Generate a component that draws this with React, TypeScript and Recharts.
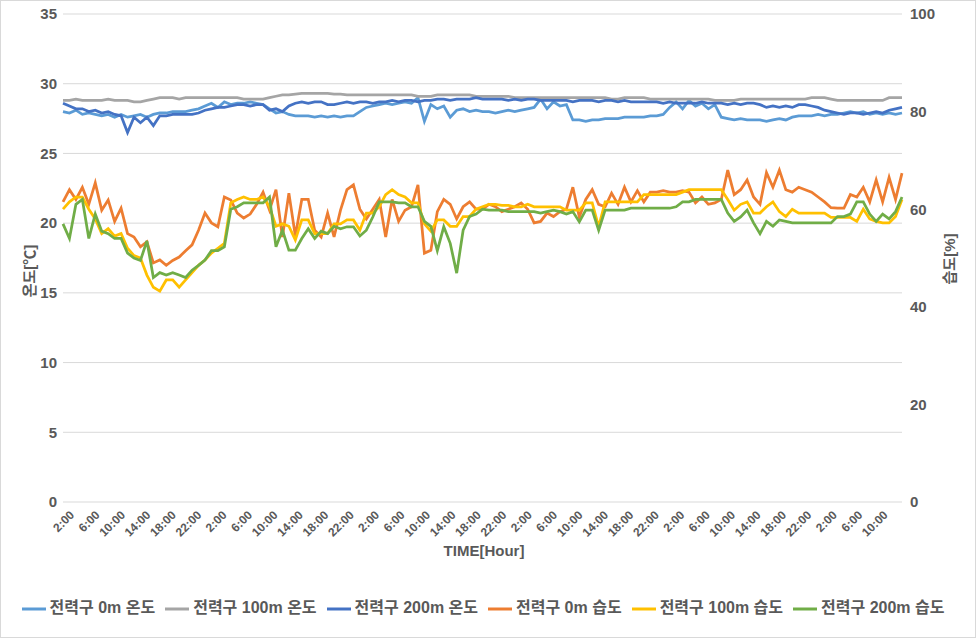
import React from 'react';
import { LineChart, Line, XAxis, YAxis, CartesianGrid, Legend } from 'recharts';

// hourly readings, first one at ~1:00 of day 1, last ~13:00 of day 6
const START_H = 1;
const STEP_H = 132 / 130;

const temp0 = [
  28.0, 27.9, 28.1, 27.8, 27.9, 27.8, 27.7, 27.8, 27.6, 27.8,
  27.6, 27.7, 27.8, 27.6, 27.8, 27.9, 27.9, 28.0, 28.0, 28.0,
  28.1, 28.2, 28.4, 28.6, 28.3, 28.7, 28.5, 28.6, 28.6, 28.7,
  28.6, 28.5, 28.2, 27.9, 28.0, 27.8, 27.7, 27.7, 27.7, 27.6,
  27.7, 27.6, 27.7, 27.6, 27.7, 27.7, 28.0, 28.3, 28.4, 28.5,
  28.6, 28.5, 28.6, 28.7, 28.6, 29.0, 27.3, 28.5, 28.2, 28.4,
  27.6, 28.1, 28.2, 28.0, 28.1, 28.0, 28.0, 27.9, 28.0, 28.1,
  28.0, 28.1, 28.2, 28.3, 28.9, 28.2, 28.7, 28.4, 28.5, 27.4,
  27.4, 27.3, 27.4, 27.4, 27.5, 27.5, 27.5, 27.6, 27.6, 27.6,
  27.6, 27.7, 27.7, 27.8, 28.3, 28.7, 28.2, 28.8, 28.4, 28.6,
  28.2, 28.5, 27.6, 27.5, 27.4, 27.5, 27.4, 27.4, 27.4, 27.3,
  27.4, 27.5, 27.4, 27.6, 27.7, 27.7, 27.7, 27.8, 27.7, 27.8,
  27.8, 27.9, 28.0, 27.9, 28.0, 27.8, 27.9, 27.8, 27.9, 27.8,
  27.9,
];

const temp100 = [
  28.8, 28.8, 28.9, 28.8, 28.8, 28.8, 28.8, 28.9, 28.8, 28.8,
  28.8, 28.7, 28.7, 28.8, 28.9, 29.0, 29.0, 29.0, 28.9, 29.0,
  29.0, 29.0, 29.0, 29.0, 29.0, 29.0, 29.0, 29.0, 28.9, 28.9,
  28.9, 28.9, 29.0, 29.1, 29.2, 29.2, 29.25, 29.3, 29.3, 29.3,
  29.3, 29.3, 29.25, 29.25, 29.2, 29.2, 29.2, 29.2, 29.2, 29.2,
  29.2, 29.2, 29.2, 29.2, 29.2, 29.1, 29.1, 29.1, 29.2, 29.2,
  29.2, 29.2, 29.2, 29.2, 29.1, 29.1, 29.1, 29.1, 29.1, 29.1,
  29.0, 29.0, 29.0, 29.0, 29.0, 29.0, 29.0, 29.0, 29.0, 29.0,
  29.0, 29.0, 29.0, 29.0, 29.0, 28.9, 28.9, 29.0, 29.0, 29.0,
  29.0, 28.9, 28.9, 28.9, 28.9, 28.9, 28.9, 28.9, 28.9, 28.9,
  28.9, 28.8, 28.8, 28.8, 28.8, 28.9, 28.9, 28.9, 28.9, 28.9,
  28.9, 28.9, 28.9, 28.9, 28.9, 28.9, 29.0, 29.0, 29.0, 28.9,
  28.8, 28.8, 28.8, 28.8, 28.8, 28.8, 28.8, 28.8, 29.0, 29.0,
  29.0,
];

const temp200 = [
  28.6, 28.4, 28.2, 28.2, 28.0, 28.1, 27.9, 28.0, 27.8, 27.7,
  26.5, 27.6, 27.2, 27.6, 27.0, 27.7, 27.7, 27.8, 27.8, 27.8,
  27.8, 27.9, 28.1, 28.2, 28.3, 28.3, 28.4, 28.5, 28.5, 28.4,
  28.5, 28.5, 28.1, 28.2, 28.0, 28.4, 28.6, 28.7, 28.6, 28.7,
  28.7, 28.5, 28.5, 28.6, 28.7, 28.6, 28.7, 28.7, 28.6, 28.7,
  28.7, 28.8, 28.7, 28.8, 28.8, 28.7, 28.8, 28.8, 28.9, 28.9,
  28.8, 28.9, 28.9, 28.9, 29.0, 28.9, 28.9, 28.9, 28.9, 28.8,
  28.9, 28.8, 28.9, 28.9, 28.8, 28.8, 28.8, 28.8, 28.8, 28.7,
  28.8, 28.8, 28.8, 28.7, 28.8, 28.8, 28.7, 28.8, 28.7, 28.7,
  28.7, 28.7, 28.7, 28.6, 28.7, 28.6, 28.6, 28.6, 28.6, 28.7,
  28.6, 28.6, 28.6, 28.5, 28.6, 28.5, 28.6, 28.6, 28.5, 28.3,
  28.4, 28.3, 28.4, 28.3, 28.5, 28.5, 28.4, 28.3, 28.1, 28.0,
  27.9, 27.8, 27.9, 27.9, 27.8, 27.9, 28.0, 27.9, 28.1, 28.2,
  28.3,
];

const hum0 = [
  61.5, 64, 62, 64.5, 61, 65.4, 59.8, 61.9, 57.5, 60.2,
  55, 54.3, 52.3, 53.3, 49, 49.6, 48.5, 49.5, 50.2, 51.5,
  52.7, 55.7, 59.2, 57.2, 56.4, 62.5, 61.9, 59.2, 58.2, 59,
  61, 63.5, 59.8, 64, 54.3, 63.3, 54.5, 62, 62, 55.7,
  54.3, 59.2, 54.3, 59.8, 64, 65, 60, 58, 60, 62,
  54.3, 62, 57.5, 59.8, 60.5, 65, 51, 51.6, 59.5, 62,
  61, 58, 60.5, 61.5, 60, 60, 61, 60.5, 59.5, 60,
  60.5, 61.3, 60, 57.2, 57.5, 59.2, 58.5, 59.5, 60, 64.5,
  58.4, 62, 64, 61, 60.5, 63.3, 61, 64.5, 61.5, 63.8,
  61.5, 63.5, 63.5, 63.8, 63.5, 63.5, 63.8, 63.5, 61.3, 62.5,
  61, 61.3, 62, 68, 63, 64, 66, 62.5, 61, 67.5,
  64.5, 68, 64, 63.5, 64.5, 64, 63.5, 62.5, 61.5, 60.3,
  60.2, 60.2, 63, 62.5, 64.5, 61.5, 66, 61.5, 66.5, 62,
  67.4,
];

const hum100 = [
  60, 61.5, 62.5, 62.5, 60, 58, 55, 56, 54.5, 55,
  52, 50.5, 50, 46.5, 44, 43.2, 45.5, 45.5, 44, 45.5,
  47, 48.5, 49.6, 51, 52, 53, 61.3, 62, 62.5, 62,
  62, 62.5, 60.5, 56.5, 57, 56.5, 53.7, 57.8, 57.8, 55,
  55, 55, 57, 57, 57.8, 57.8, 55.7, 59.2, 59.2, 60.5,
  63, 64, 63, 62.5, 61.3, 61.3, 57, 55.5, 57.8, 57.8,
  56.5, 56.5, 58.5, 58.5, 60, 60.5, 61, 61, 60.8, 60.8,
  60.5, 60.5, 61, 60.5, 60.5, 60.5, 60.5, 60.5, 59.8, 59.8,
  59.8, 61.3, 61.3, 56.4, 61.5, 61.5, 61.5, 61.5, 61.5, 61.5,
  63, 63, 63, 63, 63, 63, 63.5, 64, 64, 64,
  64, 64, 64, 62, 59.8, 61, 61.5, 59.2, 59.2, 60.5,
  61.5, 59.5, 58.5, 60, 59.2, 59.2, 59.2, 59.2, 59.2, 58.3,
  58.3, 58.3, 58.3, 57.5, 60, 58, 57.5, 57.2, 57.2, 58.5,
  62,
];

const hum200 = [
  57, 54, 61, 62, 54, 59, 55.5, 55, 54, 54,
  51, 50, 49.5, 53.5, 46, 47, 46.5, 47, 46.5, 46,
  47.5, 48.5, 49.6, 51.5, 51.5, 52.3, 60, 60.5, 61.3, 61.3,
  61.3, 61.3, 62.5, 52.3, 55.7, 51.6, 51.6, 54, 56, 54,
  55.5, 55, 56.5, 56, 56.4, 56.4, 54.5, 55.7, 58.4, 61.5,
  61.5, 61.5, 61.3, 61.3, 60.5, 60.5, 57.5, 56.5, 51.5, 56.4,
  53, 46.9, 55.7, 58.5, 59, 60, 59.8, 59.8, 59.8, 59.5,
  59.5, 59.5, 59.5, 59.5, 59.2, 59.5, 59.8, 59.5, 59, 59.5,
  57.4, 59.8, 59.8, 55.7, 59.8, 59.8, 59.8, 59.8, 60.2, 60.2,
  60.2, 60.2, 60.2, 60.2, 60.2, 60.5, 61.5, 61.5, 62, 62,
  62, 62, 62, 59.2, 57.5, 58.4, 59.8, 57.2, 55, 57.5,
  56.5, 57.8, 57.5, 57.2, 57.2, 57.2, 57.2, 57.2, 57.2, 57.2,
  58.5, 58.5, 59, 61.5, 61.5, 59, 57.5, 59, 58, 59.5,
  62.5,
];

const tickHours = [
  2, 6, 10, 14, 18, 22, 26, 30, 34, 38, 42, 46, 50, 54, 58, 62, 66,
  70, 74, 78, 82, 86, 90, 94, 98, 102, 106, 110, 114, 118, 122, 126, 130,
];
const tickLabels = [
  '2:00', '6:00', '10:00', '14:00', '18:00', '22:00',
  '2:00', '6:00', '10:00', '14:00', '18:00', '22:00',
  '2:00', '6:00', '10:00', '14:00', '18:00', '22:00',
  '2:00', '6:00', '10:00', '14:00', '18:00', '22:00',
  '2:00', '6:00', '10:00', '14:00', '18:00', '22:00',
  '2:00', '6:00', '10:00',
];
const tempTicks = [0, 5, 10, 15, 20, 25, 30, 35];
const humTicks = [0, 20, 40, 60, 80, 100];

const seriesNames = [
  '전력구 0m 온도', '전력구 100m 온도', '전력구 200m 온도',
  '전력구 0m 습도', '전력구 100m 습도', '전력구 200m 습도',
];

const data = temp0.map((_, i) => ({
  hour: START_H + i * STEP_H,
  t0: temp0[i],
  t100: temp100[i],
  t200: temp200[i],
  h0: hum0[i],
  h100: hum100[i],
  h200: hum200[i],
}));

const FONT = "'Liberation Sans', 'Noto Sans CJK KR', sans-serif";
const TXT = '#595959';
const SW = 2.75;

const XTick = ({ x, y, payload }: any) => (
  <text
    x={x}
    y={y}
    transform={`rotate(-45 ${x} ${y})`}
    textAnchor="end"
    dy={8}
    fontSize={12}
    fontFamily={FONT}
    fontWeight="bold"
    fill={TXT}
  >
    {tickLabels[tickHours.indexOf(payload.value)]}
  </text>
);

const VTitle = ({ x, y, text }: { x: number; y: number; text: string }) => (
  <text
    x={x}
    y={y}
    transform={`rotate(-90 ${x} ${y})`}
    textAnchor="middle"
    dominantBaseline="central"
    fontSize={15}
    fontWeight="bold"
    fontFamily={FONT}
    fill={TXT}
  >
    {text}
  </text>
);

export default function App() {
  const tickStyle = { fontSize: 15, fontWeight: 'bold', fontFamily: FONT, fill: TXT };
  return (
    <div
      style={{
        position: 'absolute',
        left: 0,
        top: 0,
        width: 976,
        height: 638,
        background: '#fff',
        border: '1px solid #D9D9D9',
        boxSizing: 'border-box',
      }}
    >
      <LineChart
        width={976}
        height={638}
        data={data}
        margin={{ top: 14, right: 0, bottom: 0, left: 0 }}
        style={{ position: 'absolute', left: -1, top: -1 }}
      >
        <CartesianGrid vertical={false} stroke="#D9D9D9" yAxisId="left" />
        <XAxis
          dataKey="hour"
          type="number"
          domain={[1, 133]}
          ticks={tickHours}
          interval={0}
          tick={<XTick />}
          tickLine={false}
          axisLine={false}
          height={110}
          label={{
            content: () => (
              <text x={484} y={550} textAnchor="middle" dominantBaseline="central" fontSize={15} fontWeight="bold" fontFamily={FONT} fill={TXT}>
                TIME[Hour]
              </text>
            ),
          }}
        />
        <YAxis
          yAxisId="left"
          domain={[0, 35]}
          ticks={tempTicks}
          width={63}
          tickLine={false}
          axisLine={false}
          tickMargin={0}
          tick={tickStyle}
          label={{ content: () => <VTitle x={29} y={271} text="온도[℃]" /> }}
        />
        <YAxis
          yAxisId="right"
          orientation="right"
          domain={[0, 100]}
          ticks={humTicks}
          width={74}
          tickLine={false}
          axisLine={false}
          tickMargin={2}
          tick={tickStyle}
          label={{ content: () => <VTitle x={949} y={259} text="습도[%]" /> }}
        />
        <Legend
          verticalAlign="bottom"
          iconType="plainline"
          iconSize={24}
          itemSorter={(item: any) => seriesNames.indexOf(item.value)}
          wrapperStyle={{ top: 594, left: 0, width: 976, height: 26, fontFamily: FONT, fontSize: 16, fontWeight: 'bold' }}
          formatter={(value: string) => <span style={{ color: TXT }}>{value}</span>}
        />
        <Line yAxisId="left" dataKey="t0" name={seriesNames[0]} stroke="#5B9BD5" strokeWidth={SW} dot={false} isAnimationActive={false} />
        <Line yAxisId="left" dataKey="t100" name={seriesNames[1]} stroke="#A5A5A5" strokeWidth={SW} dot={false} isAnimationActive={false} />
        <Line yAxisId="left" dataKey="t200" name={seriesNames[2]} stroke="#4472C4" strokeWidth={SW} dot={false} isAnimationActive={false} />
        <Line yAxisId="right" dataKey="h0" name={seriesNames[3]} stroke="#ED7D31" strokeWidth={SW} dot={false} isAnimationActive={false} />
        <Line yAxisId="right" dataKey="h100" name={seriesNames[4]} stroke="#FFC000" strokeWidth={SW} dot={false} isAnimationActive={false} />
        <Line yAxisId="right" dataKey="h200" name={seriesNames[5]} stroke="#70AD47" strokeWidth={SW} dot={false} isAnimationActive={false} />
      </LineChart>
    </div>
  );
}
